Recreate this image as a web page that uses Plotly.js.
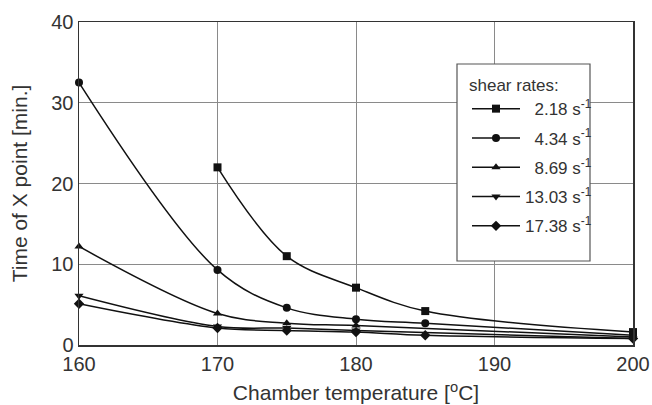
<!DOCTYPE html>
<html>
<head>
<meta charset="utf-8">
<script src="https://cdn.plot.ly/plotly-3.0.1.min.js"></script>
<style>html,body{margin:0;padding:0;background:#fff;}#chart{width:652px;height:405px;}</style>
</head>
<body>
<div id="chart"></div>
<script>
const seriesNames = ["\u20072.18 s<sup>-1</sup>", "\u20074.34 s<sup>-1</sup>", "\u20078.69 s<sup>-1</sup>", "13.03 s<sup>-1</sup>", "17.38 s<sup>-1</sup>"];
const symbols = ["square", "circle", "triangle-up", "triangle-down", "diamond"];

const x218 = [170, 175, 180, 185, 200];
const y218 = [22.0, 11.0, 7.1, 4.2, 1.6];

const x434 = [160, 170, 175, 180, 185, 200];
const y434 = [32.5, 9.3, 4.6, 3.2, 2.7, 1.2];

const x869 = [160, 170, 175, 180, 200];
const y869 = [12.2, 3.9, 2.7, 2.4, 1.0];

const x1303 = [160, 170, 175, 180, 200];
const y1303 = [6.1, 2.3, 2.1, 1.8, 0.8];

const x1738 = [160, 170, 175, 180, 185, 200];
const y1738 = [5.1, 2.1, 1.8, 1.6, 1.2, 0.8];

const xs = [x218, x434, x869, x1303, x1738];
const ys = [y218, y434, y869, y1303, y1738];

const xTicks = [160, 170, 180, 190, 200];
const yTicks = [0, 10, 20, 30, 40];

const traces = seriesNames.map((n, i) => ({
  x: xs[i], y: ys[i], name: n, type: "scatter", mode: "lines+markers",
  legendgroup: "g" + i,
  line: {color: "#111", width: 1.5, shape: "spline", smoothing: 1},
  marker: {symbol: symbols[i], size: 8, color: "#111"},
  cliponaxis: false
}));

const fam = "Liberation Sans, Arial, sans-serif";
const tickFont = {family: fam, size: 20, color: "#333"};
const titleFont = {family: fam, size: 21, color: "#333"};
const legFont = {family: fam, size: 17, color: "#333"};

const layout = {
  width: 652, height: 405,
  margin: {l: 79, r: 19, t: 22, b: 60},
  paper_bgcolor: "#fff", plot_bgcolor: "#fff",
  font: tickFont,
  showlegend: true,
  xaxis: {
    range: [160, 200], tickvals: xTicks, ticktext: xTicks.map(String),
    tickfont: tickFont,
    showgrid: true, gridcolor: "#8a8a8a", gridwidth: 1,
    showline: true, linecolor: "#333", linewidth: 1.5, mirror: true,
    ticks: "", zeroline: false,
    title: {text: "Chamber temperature [<sup>o</sup>C]", font: titleFont, standoff: 12}
  },
  yaxis: {
    range: [0, 40], tickvals: yTicks, ticktext: yTicks.map(String),
    tickfont: tickFont,
    showgrid: true, gridcolor: "#8a8a8a", gridwidth: 1,
    showline: true, linecolor: "#333", linewidth: 1.5, mirror: true,
    ticks: "", zeroline: false,
    title: {text: "Time of X point [min.]", font: titleFont, standoff: 18}
  },
  shapes: [{
    type: "rect", xref: "paper", yref: "paper",
    x0: (457 - 79) / 554, x1: (590 - 79) / 554,
    y0: (345 - 261) / 323, y1: (345 - 64) / 323,
    fillcolor: "#fff", line: {color: "#555", width: 1.2}, layer: "above"
  }],
  legend: {
    x: (467 - 79) / 554, y: (345 - 69) / 323, xanchor: "left", yanchor: "top",
    bgcolor: "rgba(0,0,0,0)", borderwidth: 0,
    font: legFont, itemwidth: 48, tracegroupgap: 4.2, traceorder: "grouped",
    title: {text: "shear rates:", font: legFont}
  }
};

Plotly.newPlot("chart", traces, layout, {staticPlot: true, displayModeBar: false});
</script>
</body>
</html>
